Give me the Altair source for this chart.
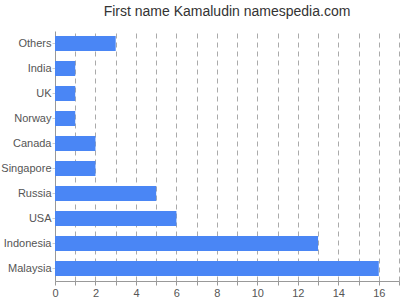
import altair as alt
import pandas as pd

countries = ["Others", "India", "UK", "Norway", "Canada", "Singapore", "Russia", "USA", "Indonesia", "Malaysia"]
counts = [3, 1, 1, 1, 2, 2, 5, 6, 13, 16]
x_ticks = list(range(0, 18))

df = pd.DataFrame({"country": countries, "count": counts})

chart = alt.Chart(df).mark_bar(color="#4a86f5").encode(
    x=alt.X("count:Q",
            scale=alt.Scale(domain=[0, 17], nice=False),
            axis=alt.Axis(title=None, values=x_ticks, grid=True, gridDash=[5, 4],
                          gridColor="#aaaaaa", labelExpr="datum.value % 2 == 0 ? datum.label : ''",
                          labelFlush=False,
                          domainColor="#999999", tickColor="#999999", tickSize=4,
                          labelColor="#555555", labelFontSize=11, labelFont="Liberation Sans")),
    y=alt.Y("country:N", sort=countries,
            scale=alt.Scale(paddingInner=0.4, paddingOuter=0.2),
            axis=alt.Axis(title=None, domainColor="#999999", tickColor="#cccccc", tickSize=3,
                          labelColor="#555555", labelFontSize=11, labelFont="Liberation Sans",
                          labelPadding=1)),
).properties(
    width=344, height=250,
    title=alt.TitleParams("First name Kamaludin namespedia.com", fontSize=14, fontWeight="normal",
                          font="Liberation Sans", color="#333333", anchor="middle", offset=12),
    autosize=alt.AutoSizeParams(type="none"),
    padding={"left": 55, "top": 31, "right": 1, "bottom": 19},
).configure_view(stroke=None)

chart.save("out.html", embed_options={"renderer": "svg", "actions": False})
